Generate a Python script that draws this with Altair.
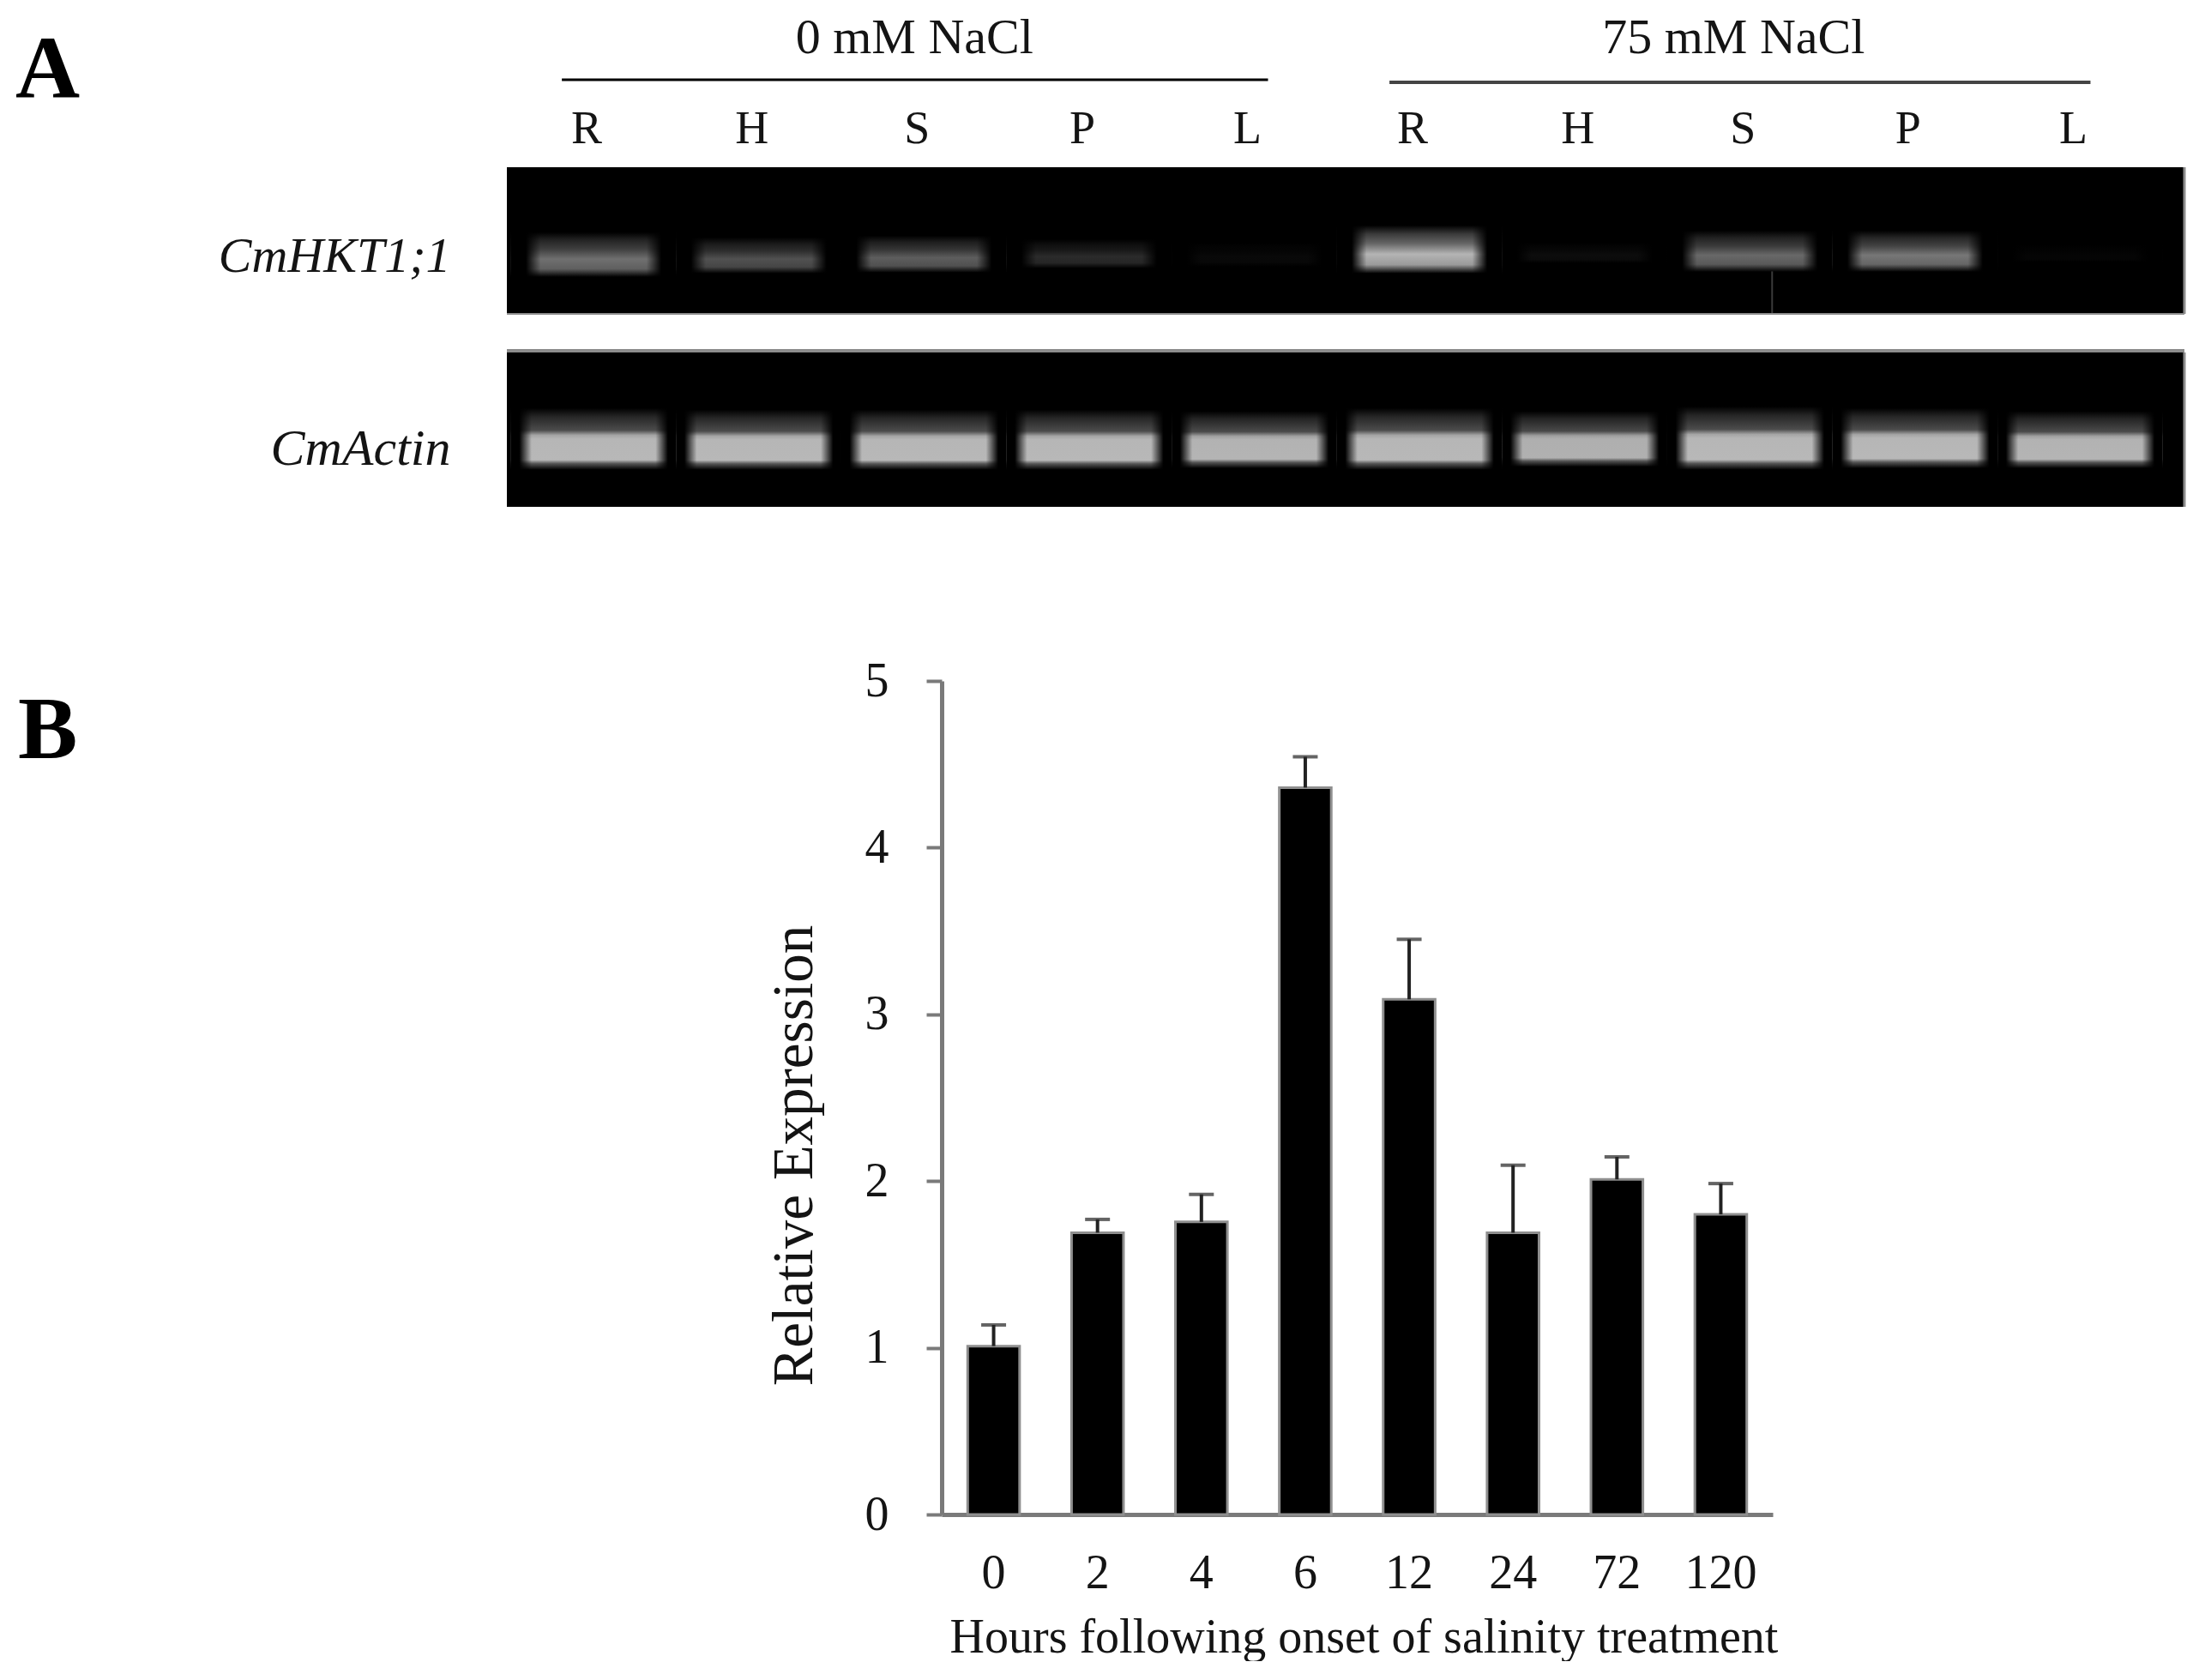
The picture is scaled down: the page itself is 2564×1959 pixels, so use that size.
import altair as alt
import pandas as pd

FONT = "Liberation Serif"
INK = "#141414"
FS = 56

# ---------- panel A data ----------
lanes = ["0-R", "0-H", "0-S", "0-P", "0-L", "75-R", "75-H", "75-S", "75-P", "75-L"]
hkt_intensity = [0.62, 0.45, 0.52, 0.24, 0.05, 1.0, 0.07, 0.58, 0.66, 0.03]
hkt_top = [0.443, 0.478, 0.466, 0.49, 0.513, 0.396, 0.513, 0.431, 0.431, 0.531]
hkt_bottom = [0.748, 0.724, 0.718, 0.689, 0.677, 0.724, 0.654, 0.713, 0.713, 0.648]
actin_intensity = [1, 1, 1, 1, 0.98, 1, 0.96, 1, 1, 0.98]
actin_top = [0.36, 0.37, 0.37, 0.37, 0.38, 0.36, 0.38, 0.35, 0.36, 0.38]
actin_bottom = [0.76, 0.76, 0.76, 0.76, 0.75, 0.76, 0.74, 0.76, 0.75, 0.75]
groups = ["0 mM NaCl", "75 mM NaCl"]
group_first = ["0-R", "75-R"]
group_mid = ["0-S", "75-S"]
group_last = ["0-L", "75-L"]

# ---------- panel B data ----------
hours = ["0", "2", "4", "6", "12", "24", "72", "120"]
expression = [1.01, 1.69, 1.755, 4.36, 3.09, 1.69, 2.01, 1.80]
upper = [1.137, 1.77, 1.92, 4.545, 3.45, 2.095, 2.145, 1.985]

GW, H1, H2 = 1956, 171, 180

xs = alt.Scale(domain=lanes, paddingInner=0, paddingOuter=0.078, align=0.16)
lane_axis = alt.Axis(orient="top", title=None, domain=False, ticks=False, labelAngle=0,
                     labelFont=FONT, labelFontSize=54, labelColor=INK, labelPadding=18,
                     labelOffset=-8, labelExpr="split(datum.value,'-')[1]")


def stops(pairs):
    return [alt.GradientStop(color=c, offset=o) for o, c in pairs]


hkt_grad = alt.LinearGradient(gradient="linear", x1=0, x2=0, y1=0, y2=1, stops=stops(
    [(0, "#000000"), (0.18, "#3a3a3a"), (0.38, "#666666"), (0.6, "#b4b4b4"),
     (0.82, "#9a9a9a"), (1, "#000000")]))
actin_grad = alt.LinearGradient(gradient="linear", x1=0, x2=0, y1=0, y2=1, stops=stops(
    [(0, "#000000"), (0.14, "#262626"), (0.36, "#4c4c4c"), (0.44, "#a4a4a4"),
     (0.5, "#b6b6b6"), (0.84, "#b8b8b8"), (0.9, "#555555"), (1, "#000000")]))


def mask(a, b):
    return alt.LinearGradient(gradient="linear", x1=0, x2=1, y1=0, y2=0, stops=stops(
        [(0, "#000000"), (a, "#000000"), (b, "rgba(0,0,0,0)"), (1 - b, "rgba(0,0,0,0)"),
         (1 - a, "#000000"), (1, "#000000")]))


def gel(values, tops, bottoms, grad, msk, h, name, title_y, title_size):
    df = pd.DataFrame({"lane": lanes, "i": values, "t": tops, "b": bottoms})
    ys = alt.Scale(domain=[1, 0])
    bands = alt.Chart(df).mark_rect(color=grad).encode(
        x=alt.X("lane:N", scale=xs, axis=lane_axis if name == "CmHKT1;1" else None, sort=lanes),
        y=alt.Y("t:Q", scale=ys, axis=alt.Axis(
            title=name, titleAngle=0, titleAlign="right", titleBaseline="middle",
            titleFont=FONT, titleFontSize=title_size, titleFontStyle="italic",
            titleFontWeight="normal", titleColor=INK, titleX=-66, titleY=title_y,
            domain=False, ticks=False, labels=False, grid=False, values=[])),
        y2="b:Q",
        opacity=alt.Opacity("i:Q", scale=None),
    )
    edges = alt.Chart(df).mark_rect(color=msk).encode(
        x=alt.X("lane:N", scale=xs, sort=lanes))
    return bands, edges


b1, m1 = gel(hkt_intensity, hkt_top, hkt_bottom, hkt_grad, mask(0.09, 0.18), H1, "CmHKT1;1", 104, 58)
b2, m2 = gel(actin_intensity, actin_top, actin_bottom, actin_grad, mask(0.05, 0.125), H2, "CmActin", 112, 60)

hdr = pd.DataFrame({"g": groups, "a": group_first, "m": group_mid, "z": group_last})
hdr0, hdr75 = hdr.iloc[[0]], hdr.iloc[[1]]
rule0 = alt.Chart(hdr0).mark_rule(color="#000000", strokeWidth=3, xOffset=-37, x2Offset=16).encode(
    x=alt.X("a:N", scale=xs, sort=lanes), x2="z:N", y=alt.value(-102))
rule75 = alt.Chart(hdr75).mark_rule(color="#444444", strokeWidth=4, xOffset=-35, x2Offset=12).encode(
    x=alt.X("a:N", scale=xs, sort=lanes), x2="z:N", y=alt.value(-99))
hdr_text0 = alt.Chart(hdr0).mark_text(font=FONT, fontSize=58, color=INK, baseline="alphabetic",
                                      dx=-11).encode(
    x=alt.X("m:N", scale=xs, sort=lanes), y=alt.value(-133), text="g:N")
hdr_text75 = alt.Chart(hdr75).mark_text(font=FONT, fontSize=58, color=INK, baseline="alphabetic",
                                        dx=-19).encode(
    x=alt.X("m:N", scale=xs, sort=lanes), y=alt.value(-133), text="g:N")
letter_a = alt.Chart(pd.DataFrame({"t": ["A"]})).mark_text(
    font=FONT, fontSize=104, fontWeight="bold", color="#000000", align="left",
    baseline="alphabetic").encode(x=alt.value(-573), y=alt.value(-81), text="t:N")

streak = alt.Chart(pd.DataFrame({"lane": ["75-S"], "a": [0.71], "b": [1.0]})).mark_rule(
    color="#3a3a3a", strokeWidth=2, xOffset=26).encode(
    x=alt.X("lane:N", scale=xs, sort=lanes),
    y=alt.Y("a:Q", scale=alt.Scale(domain=[1, 0])), y2="b:Q")

edge_bottom = alt.Chart(pd.DataFrame({"t": ["e"]})).mark_rule(color="#8c8c8c", strokeWidth=2).encode(
    x=alt.value(0), x2=alt.value(GW), y=alt.value(H1))
edge_right1 = alt.Chart(pd.DataFrame({"t": ["e"]})).mark_rule(color="#8c8c8c", strokeWidth=3).encode(
    x=alt.value(GW), y=alt.value(0), y2=alt.value(H1))
edge_top2 = alt.Chart(pd.DataFrame({"t": ["e"]})).mark_rule(color="#8c8c8c", strokeWidth=4).encode(
    x=alt.value(0), x2=alt.value(GW), y=alt.value(-2))
edge_right2 = alt.Chart(pd.DataFrame({"t": ["e"]})).mark_rule(color="#8c8c8c", strokeWidth=3).encode(
    x=alt.value(GW), y=alt.value(0), y2=alt.value(H2))

black = alt.ViewBackground(fill="#000000", stroke=None)
gel1 = alt.layer(b1, m1, streak, edge_bottom, edge_right1, rule0, rule75, hdr_text0, hdr_text75,
                 letter_a).properties(width=GW, height=H1, view=black)
gel2 = alt.layer(b2, m2, edge_top2, edge_right2).properties(width=GW, height=H2, view=black)

# ---------- panel B ----------
bar_df = pd.DataFrame({"h": hours, "v": expression, "u": upper})
bx = alt.Scale(domain=hours, paddingInner=0.50, paddingOuter=0.25, align=0.5)
by = alt.Scale(domain=[0, 5], nice=False)
AX = "#7a7a7a"
bars = alt.Chart(bar_df).mark_bar(color="#000000", stroke="#8f8f8f", strokeWidth=3).encode(
    x=alt.X("h:N", scale=bx, sort=hours, axis=alt.Axis(
        title="Hours following onset of salinity treatment", labelAngle=0,
        labelFont=FONT, labelFontSize=FS, labelColor=INK, labelPadding=41,
        titleFont=FONT, titleFontSize=FS, titleFontWeight="normal", titleColor=INK,
        titlePadding=20, titleX=492, ticks=False, domainColor=AX, domainWidth=5)),
    y=alt.Y("v:Q", scale=by, axis=alt.Axis(
        title="Relative Expression", values=[0, 1, 2, 3, 4, 5], format="d", grid=False,
        labelFont=FONT, labelFontSize=FS, labelColor=INK, labelPadding=44,
        titleFont=FONT, titleFontSize=67, titleFontWeight="normal", titleColor=INK,
        titlePadding=48, titleY=553, tickSize=18, tickWidth=4, tickColor=AX,
        domainColor=AX, domainWidth=5)),
)
err = alt.Chart(bar_df).mark_rule(color="#222222", strokeWidth=4).encode(
    x=alt.X("h:N", scale=bx, sort=hours), y=alt.Y("v:Q", scale=by), y2="u:Q")
caps = alt.Chart(bar_df).mark_tick(color="#222222", thickness=4, size=29).encode(
    x=alt.X("h:N", scale=bx, sort=hours), y=alt.Y("u:Q", scale=by))
bar_chart = alt.layer(bars, err, caps).properties(width=969, height=972)

letter_b = alt.Chart(pd.DataFrame({"t": ["B"]})).mark_text(
    font=FONT, fontSize=104, fontWeight="bold", color="#000000", align="left",
    baseline="alphabetic").encode(x=alt.value(-570), y=alt.value(90), text="t:N").properties(
    width=10, height=972)

row2 = alt.hconcat(letter_b, bar_chart, spacing=291)

chart = alt.vconcat(alt.vconcat(gel1, gel2, spacing=39), row2, spacing=173).properties(
    background="#ffffff", padding={"left": 10, "top": 8, "right": 0, "bottom": 0}
).configure_view(stroke=None)

chart.save("out.html", embed_options={"renderer": "svg", "actions": False})
